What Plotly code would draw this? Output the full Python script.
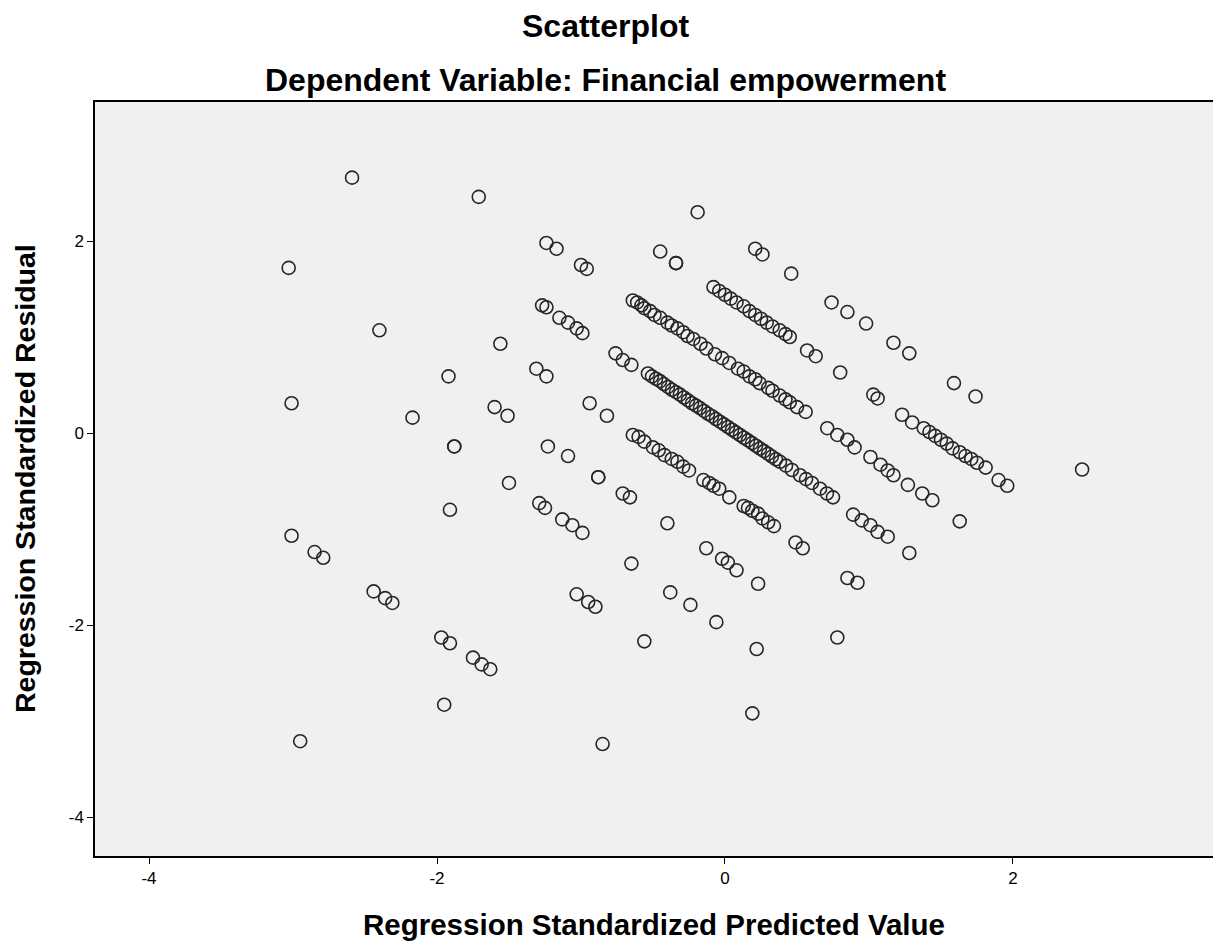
import plotly.graph_objects as go

# Regression standardized predicted value (x) / standardized residual (y), grouped by diagonal band
band1_pred = [-0.19, 0.21, 0.26, 0.46, 0.74, 0.85, 0.98, 1.17, 1.28, 1.59, 1.74, 2.48]
band1_resid = [2.30, 1.92, 1.86, 1.66, 1.36, 1.26, 1.14, 0.94, 0.83, 0.52, 0.38, -0.38]

band2_pred = [-0.45, -0.34, -0.34, -0.08, -0.04, 0.00, 0.04, 0.08, 0.13, 0.17, 0.21, 0.25, 0.29,
              0.33, 0.38, 0.42, 0.45, 0.57, 0.63, 0.80, 1.03, 1.06, 1.23, 1.30, 1.38, 1.42, 1.46,
              1.50, 1.54, 1.58, 1.63, 1.67, 1.71, 1.75, 1.81, 1.90, 1.96]
band2_resid = [1.89, 1.77, 1.77, 1.52, 1.48, 1.44, 1.40, 1.36, 1.32, 1.27, 1.23, 1.19, 1.15,
               1.11, 1.07, 1.03, 1.00, 0.86, 0.80, 0.63, 0.40, 0.36, 0.19, 0.11, 0.05, 0.01, -0.03,
               -0.07, -0.11, -0.16, -0.20, -0.24, -0.27, -0.31, -0.36, -0.49, -0.55]

band3_pred = [-1.71, -1.24, -1.17, -1.00, -0.96, -0.64, -0.61, -0.58, -0.56, -0.52, -0.49, -0.45,
              -0.40, -0.37, -0.33, -0.29, -0.26, -0.22, -0.17, -0.13, -0.07, -0.02, 0.03, 0.09,
              0.13, 0.17, 0.21, 0.24, 0.30, 0.33, 0.38, 0.42, 0.45, 0.50, 0.56, 0.71, 0.78, 0.85,
              0.90, 1.01, 1.08, 1.13, 1.17, 1.27, 1.37, 1.44, 1.63]
band3_resid = [2.46, 1.98, 1.92, 1.75, 1.71, 1.38, 1.36, 1.33, 1.30, 1.27, 1.23, 1.20,
               1.15, 1.12, 1.09, 1.05, 1.01, 0.98, 0.93, 0.88, 0.82, 0.78, 0.73, 0.67,
               0.64, 0.59, 0.56, 0.52, 0.47, 0.44, 0.39, 0.35, 0.32, 0.27, 0.22, 0.05, -0.02, -0.07,
               -0.15, -0.25, -0.33, -0.39, -0.44, -0.54, -0.63, -0.70, -0.92]

band4_pred = [-2.59, -1.27, -1.24, -1.15, -1.09, -1.03, -0.99, -0.76, -0.71, -0.65,
              -0.535, -0.507, -0.479, -0.451, -0.424, -0.396, -0.368, -0.340, -0.313, -0.285,
              -0.257, -0.229, -0.201, -0.174, -0.146, -0.118, -0.090, -0.063, -0.035, -0.007,
              0.021, 0.049, 0.076, 0.104, 0.132, 0.160, 0.188, 0.215, 0.243, 0.271,
              0.299, 0.326, 0.354, 0.382, 0.424, 0.465, 0.521, 0.563, 0.604, 0.660,
              0.708, 0.750, 0.89, 0.95, 1.01, 1.06, 1.13, 1.28]
band4_resid = [2.66, 1.33, 1.31, 1.20, 1.15, 1.09, 1.04, 0.83, 0.76, 0.71,
               0.62, 0.59, 0.565, 0.54, 0.51, 0.48, 0.45, 0.425, 0.40, 0.37,
               0.34, 0.31, 0.285, 0.26, 0.23, 0.20, 0.175, 0.146, 0.118, 0.09,
               0.063, 0.034, 0.007, -0.021, -0.049, -0.077, -0.105, -0.133, -0.161, -0.189,
               -0.217, -0.245, -0.273, -0.30, -0.34, -0.385, -0.44, -0.48, -0.52, -0.58,
               -0.63, -0.67, -0.85, -0.91, -0.96, -1.03, -1.08, -1.25]

band5_pred = [-1.56, -1.31, -1.24, -0.94, -0.82, -0.64, -0.60, -0.56, -0.50, -0.46, -0.42, -0.37,
              -0.33, -0.29, -0.25, -0.15, -0.11, -0.08, -0.04, 0.03, 0.13, 0.16, 0.19, 0.23,
              0.26, 0.30, 0.34, 0.49, 0.54, 0.85, 0.92]
band5_resid = [0.93, 0.67, 0.59, 0.31, 0.18, -0.02, -0.04, -0.09, -0.15, -0.18, -0.23, -0.27,
               -0.30, -0.35, -0.39, -0.49, -0.52, -0.55, -0.58, -0.67, -0.76, -0.78, -0.81, -0.84,
               -0.89, -0.93, -0.97, -1.14, -1.20, -1.51, -1.56]

band6_pred = [-3.03, -2.40, -1.92, -1.60, -1.51, -1.23, -1.09, -0.88, -0.88, -0.71, -0.66, -0.40,
              -0.13, -0.02, 0.02, 0.08, 0.23, 0.78]
band6_resid = [1.72, 1.07, 0.59, 0.27, 0.18, -0.14, -0.24, -0.46, -0.46, -0.63, -0.67, -0.94,
               -1.20, -1.31, -1.35, -1.43, -1.57, -2.13]

band7_pred = [-2.17, -1.88, -1.88, -1.50, -1.29, -1.25, -1.13, -1.06, -0.99, -0.65, -0.38, -0.24,
              -0.06, 0.22]
band7_resid = [0.16, -0.14, -0.14, -0.52, -0.73, -0.78, -0.90, -0.96, -1.04, -1.36, -1.66, -1.79,
               -1.97, -2.25]

lower_pred = [-3.01, -1.91, -1.03, -0.95, -0.90, -0.56, 0.19, -3.01, -2.85, -2.79, -2.44, -2.36,
              -2.31, -1.97, -1.91, -1.75, -1.69, -1.63, -0.85, -1.95, -2.95]
lower_resid = [0.31, -0.80, -1.68, -1.76, -1.81, -2.17, -2.92, -1.07, -1.24, -1.30, -1.65, -1.72,
               -1.77, -2.13, -2.19, -2.34, -2.41, -2.46, -3.24, -2.83, -3.21]

x_ticks = [-4, -2, 0, 2]
y_ticks = [-4, -2, 0, 2]

pred = (band1_pred + band2_pred + band3_pred + band4_pred + band5_pred + band6_pred
        + band7_pred + lower_pred)
resid = (band1_resid + band2_resid + band3_resid + band4_resid + band5_resid + band6_resid
         + band7_resid + lower_resid)

fig = go.Figure()
fig.add_trace(go.Scatter(
    x=pred, y=resid, mode="markers",
    marker=dict(symbol="circle-open", size=13, color="#262626", line=dict(width=1.6)),
    showlegend=False, hoverinfo="x+y",
))

font_family = "Liberation Sans, Arial, sans-serif"

fig.update_layout(
    width=1213, height=949,
    margin=dict(l=95, r=0, t=102, b=93),
    paper_bgcolor="white",
    plot_bgcolor="#f0f0f0",
    font=dict(family=font_family, color="black"),
    xaxis=dict(
        range=[-4.375, 3.389], tickvals=x_ticks, ticktext=[str(v) for v in x_ticks],
        showgrid=False, zeroline=False, showline=True, linecolor="black", linewidth=1.5,
        mirror=True, ticks="outside", ticklen=6, tickcolor="black", tickwidth=1,
        tickfont=dict(size=17, family=font_family), fixedrange=True,
    ),
    yaxis=dict(
        range=[-4.406, 3.448], tickvals=y_ticks, ticktext=[str(v) for v in y_ticks],
        showgrid=False, zeroline=False, showline=True, linecolor="black", linewidth=1.5,
        ticks="outside", ticklen=6, tickcolor="black", tickwidth=1,
        tickfont=dict(size=17, family=font_family), fixedrange=True,
    ),
    annotations=[
        dict(text="<b>Scatterplot</b>", xref="paper", yref="paper", x=0.457, y=1.1005,
             xanchor="center", yanchor="middle", showarrow=False,
             font=dict(size=32, family=font_family)),
        dict(text="<b>Dependent Variable: Financial empowerment</b>", xref="paper", yref="paper",
             x=0.457, y=1.029, xanchor="center", yanchor="middle", showarrow=False,
             font=dict(size=32, family=font_family)),
        dict(text="<b>Regression Standardized Predicted Value</b>", xref="paper", yref="paper",
             x=0.5, y=-0.0915, xanchor="center", yanchor="middle", showarrow=False,
             font=dict(size=29.5, family=font_family)),
        dict(text="<b>Regression Standardized Residual</b>", xref="paper", yref="paper",
             x=-0.0626, y=0.5, xanchor="center", yanchor="middle", showarrow=False,
             textangle=-90, font=dict(size=28.5, family=font_family)),
    ],
)

fig.write_html(
    "out.html",
    config={"displayModeBar": False},
    post_script="document.body.style.margin='0';document.body.style.overflow='hidden';",
)
